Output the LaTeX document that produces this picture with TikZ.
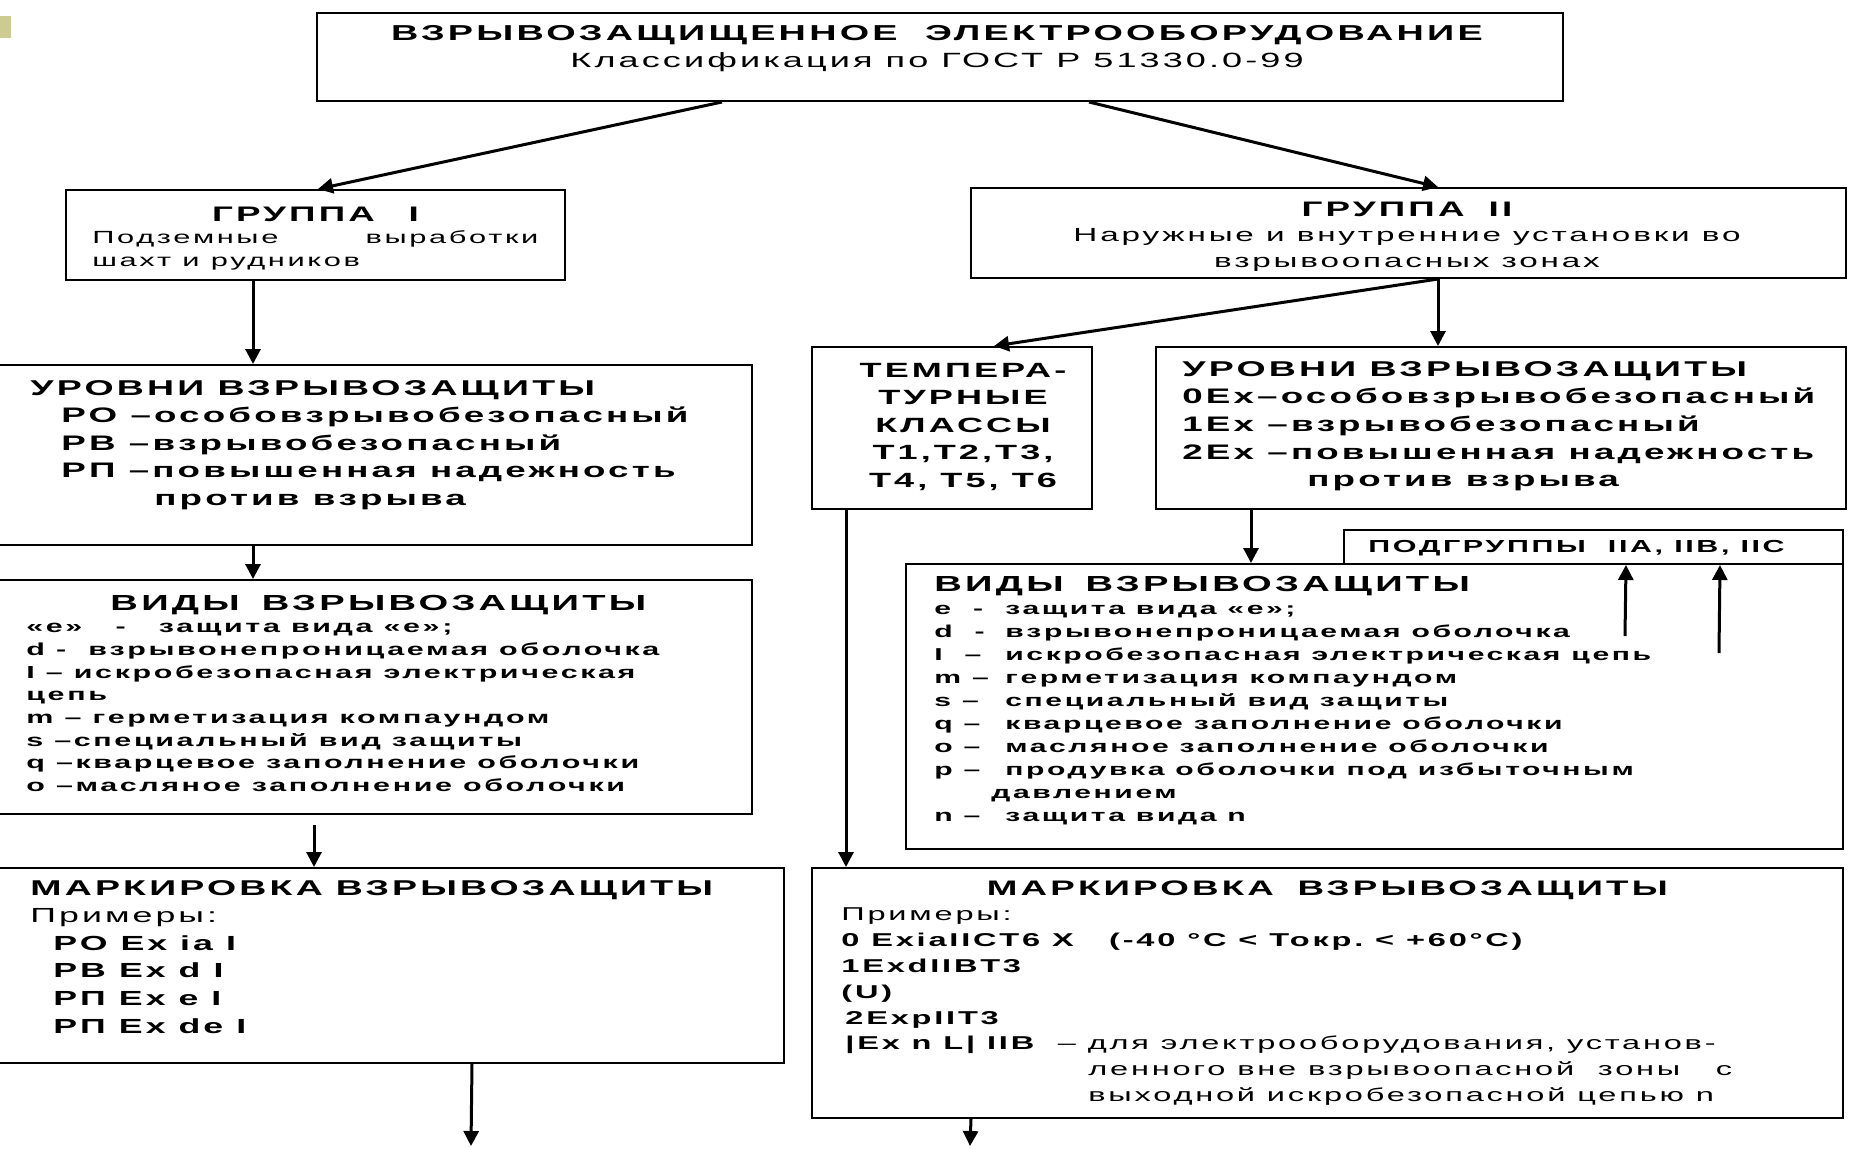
\documentclass[tikz,border=0pt]{standalone}
\usepackage{fontspec}
\setmainfont{Liberation Sans}[FakeStretch=1.75,LetterSpace=15]
\usetikzlibrary{arrows.meta}
\definecolor{khaki}{RGB}{204,204,146}
\newcommand{\setfs}[2]{\fontsize{#1}{#2}\selectfont}
\newcommand{\itm}[2]{\makebox[35.5pt][l]{#1}#2}
\begin{document}
\begin{tikzpicture}[x=0.5pt, y=-0.5pt,
  box/.style={draw, line width=1pt, inner sep=0pt, anchor=north west},
  txt/.style={inner sep=0pt, anchor=base west, align=left,
    execute at begin node={\spaceskip=\fontdimen2\font\xspaceskip=\fontdimen2\font\relax}},
  ctxt/.style={inner sep=0pt, anchor=base, align=center,
    execute at begin node={\spaceskip=\fontdimen2\font\xspaceskip=\fontdimen2\font\relax}},
  arr/.style={line width=1.5pt, -{Triangle[length=7.5pt,width=7.5pt]}}]
\useasboundingbox (0,0) rectangle (1854,1148);
\fill[white] (0,0) rectangle (1854,1148);
\fill[khaki] (0,16) rectangle (11,38);

% boxes
\node[box, minimum width=623pt, minimum height=44pt] (head) at (316,12) {};
\node[box, minimum width=249.5pt, minimum height=45pt] (grI) at (65,189) {};
\node[box, minimum width=437.5pt, minimum height=45pt] (grII) at (970,187) {};
\node[box, minimum width=380.5pt, minimum height=90pt] (lvlL) at (-10,364) {};
\node[box, minimum width=380.5pt, minimum height=117pt] (typL) at (-10,579) {};
\node[box, minimum width=396.5pt, minimum height=97.5pt] (mrkL) at (-10,867) {};
\node[box, minimum width=140pt, minimum height=81pt] (temp) at (811,346) {};
\node[box, minimum width=345pt, minimum height=81pt] (lvlR) at (1155,346) {};
\node[box, minimum width=249.5pt, minimum height=17pt] (sub) at (1343,529) {};
\node[box, minimum width=468.5pt, minimum height=142.5pt] (typR) at (905,563) {};
\node[box, minimum width=515.5pt, minimum height=125pt] (mrkR) at (811,867) {};

% texts
\node[ctxt, font=\bfseries\setfs{10.8}{13}] (headT) at (937,40) {ВЗРЫВОЗАЩИЩЕННОЕ \ ЭЛЕКТРООБОРУДОВАНИЕ};
\node[ctxt, font=\setfs{10.3}{11}] (headS) at (937,67) {Классификация по ГОСТ Р 51330.0-99};
\node[txt, text width=223pt, font=\setfs{8.8}{11.25}] (grItx) at (92,221) {\makebox[\linewidth]{\bfseries\setfs{10.5}{11.25}ГРУППА \ \ I}\\ \makebox[\linewidth]{Подземные\hfill выработки}\\ шахт и рудников};
\node[ctxt, text width=430pt, font=\setfs{9.5}{12.75}] (grIItx) at (1407,216) {{\bfseries\setfs{10.5}{12.75}ГРУППА \ II}\\ Наружные и внутренние установки во\\ взрывоопасных зонах};
\node[txt, text width=360pt, font=\bfseries\setfs{10.5}{13.75}] (lvlLtx) at (30,395) {{\setfs{10.7}{13.75}УРОВНИ ВЗРЫВОЗАЩИТЫ}\\ \hspace*{15.5pt}РО –особовзрывобезопасный\\ \hspace*{15.5pt}РВ –взрывобезопасный\\ \hspace*{15.5pt}РП –повышенная надежность\\ \hspace*{62pt}против взрыва};
\node[txt, text width=352pt, font=\bfseries\setfs{8.7}{11.35}] (typLtx) at (26,610) {\makebox[\linewidth]{\setfs{10.9}{11.35}ВИДЫ \ ВЗРЫВОЗАЩИТЫ}\\ «е» \ \ - \ \ защита вида «е»;\\ d - \ взрывонепроницаемая оболочка\\ I – искробезопасная электрическая\\ цепь\\ m – герметизация компаундом\\ s –специальный вид защиты\\ q –кварцевое заполнение оболочки\\ o –масляное заполнение оболочки};
\node[txt, text width=370pt, font=\bfseries\setfs{10.2}{13.8}] (mrkLtx) at (30,895) {{\setfs{10.7}{13.8}МАРКИРОВКА ВЗРЫВОЗАЩИТЫ}\\ {\mdseries Примеры:}\\ \hspace*{11.5pt}РО Ex ia I\\ \hspace*{11.5pt}РВ Ex d I\\ \hspace*{11.5pt}РП Ex e I\\ \hspace*{11.5pt}РП Ex de I};
\node[ctxt, text width=135pt, font=\bfseries\setfs{10.3}{13.75}] (temptx) at (963,377) {ТЕМПЕРА-\\ ТУРНЫЕ\\ КЛАССЫ\\ Т1,Т2,Т3,\\ Т4, Т5, Т6};
\node[txt, text width=330pt, font=\bfseries\setfs{10.5}{13.85}] (lvlRtx) at (1182,376) {{\setfs{10.7}{13.85}УРОВНИ ВЗРЫВОЗАЩИТЫ}\\ 0Ex–особовзрывобезопасный\\ 1Ex –взрывобезопасный\\ 2Ex –повышенная надежность\\ \hspace*{62.5pt}против взрыва};
\node[txt, text width=240pt, font=\bfseries\setfs{8.7}{10}] (subtx) at (1368,552) {ПОДГРУППЫ \ IIA, IIB, IIC};
\node[txt, text width=455pt, font=\bfseries\setfs{8.6}{11.5}] (typRtx) at (934,591) {{\setfs{10.9}{11.5}ВИДЫ \ ВЗРЫВОЗАЩИТЫ}\\ \itm{e \ -}{защита вида «е»;}\\ \itm{d \ -}{взрывонепроницаемая оболочка}\\ \itm{I \ –}{искробезопасная электрическая цепь}\\ \itm{m –}{герметизация компаундом}\\ \itm{s –}{специальный вид защиты}\\ \itm{q –}{кварцевое заполнение оболочки}\\ \itm{o –}{масляное заполнение оболочки}\\ \itm{p –}{продувка оболочки под избыточным}\\ \hspace*{28.5pt}давлением\\ \itm{n –}{защита вида n}};
\node[txt, text width=486pt, font=\bfseries\setfs{9.3}{12.9}] (mrkRtx) at (841,895) {\makebox[\linewidth]{\setfs{10.5}{12.9}МАРКИРОВКА \ ВЗРЫВОЗАЩИТЫ}\\ {\mdseries Примеры:}\\ 0 ExiaIICT6 X \ \ (-40 °С < Токр. < +60°С)\\ 1ExdIIBT3\\ (U)\\ \hspace*{2pt}2ExpIIT3\\ \hspace*{2pt}|Ex n L| IIB \ {\mdseries – для электрооборудования, установ-}\\ \hspace*{123.5pt}{\mdseries ленного вне взрывоопасной \ зоны \ \ с}\\ \hspace*{123.5pt}{\mdseries выходной искробезопасной цепью n}};

% free ends
\coordinate (endL) at (471,1146);
\coordinate (endR) at (970,1146);
\coordinate (upA) at (1625,636);
\coordinate (upB) at (1719,653);

% arrows
\draw[arr] ([xshift=-109pt]head.south) -- ([xshift=1.25pt]grI.north);
\draw[arr] ([xshift=74.5pt]head.south) -- ([xshift=14.75pt]grII.north);
\draw[arr] ([xshift=-31.25pt]grI.south) -- ([xshift=-59.25pt]lvlL.north);
\draw[arr] ([xshift=-59.25pt]lvlL.south) -- ([xshift=-59.25pt]typL.north);
\draw[arr] ([xshift=-28.75pt,yshift=-5pt]typL.south) -- ([xshift=-36.75pt]mrkL.north);
\draw[arr] ([xshift=42.25pt]mrkL.south) -- (endL);
\draw[arr] ([xshift=14.75pt]grII.south) -- ([xshift=21pt]temp.north);
\draw[arr] ([xshift=14.75pt]grII.south) -- ([xshift=-31.5pt]lvlR.north);
\draw[arr] ([xshift=-53pt]temp.south) -- ([xshift=-240.75pt]mrkR.north);
\draw[arr] ([xshift=-125pt]lvlR.south) -- ([xshift=-61.75pt]typR.north);
\draw[arr] (upA) -- ([xshift=16.25pt]sub.south);
\draw[arr] (upB) -- ([xshift=63.25pt]sub.south);
\draw[arr] ([xshift=-178.25pt]mrkR.south) -- (endR);
\end{tikzpicture}
\end{document}
